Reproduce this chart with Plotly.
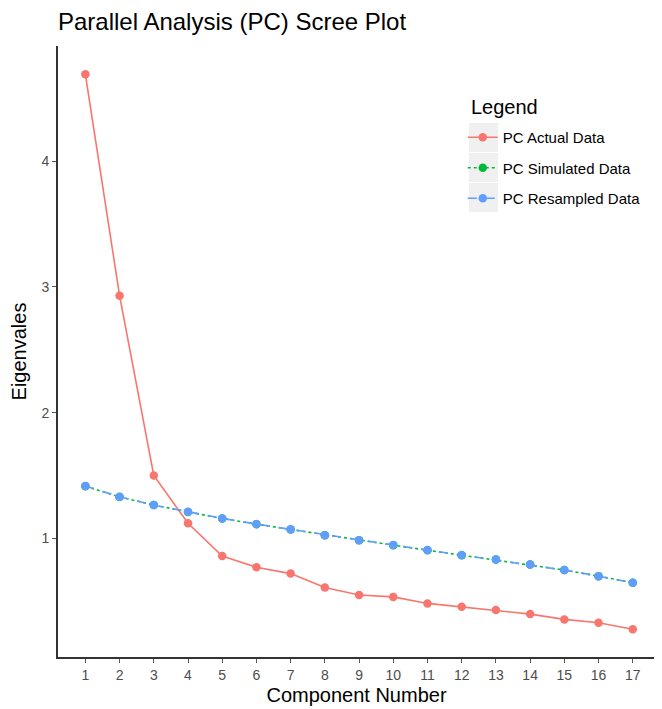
import plotly.graph_objects as go

components = list(range(1, 18))
actual = [4.69, 2.93, 1.50, 1.12, 0.86, 0.77, 0.72, 0.61, 0.55, 0.535, 0.483, 0.456, 0.43, 0.398, 0.356, 0.329, 0.278]
simulated = [1.415, 1.33, 1.265, 1.21, 1.158, 1.113, 1.071, 1.026, 0.985, 0.946, 0.906, 0.866, 0.832, 0.792, 0.748, 0.70, 0.648]
resampled = [1.416, 1.331, 1.265, 1.212, 1.159, 1.114, 1.072, 1.026, 0.986, 0.947, 0.907, 0.867, 0.833, 0.793, 0.748, 0.700, 0.647]
x_ticks = components
y_ticks = [1, 2, 3, 4]
series_names = ["PC Actual Data", "PC Simulated Data", "PC Resampled Data"]

FONT = "Liberation Sans, Arial, sans-serif"

# page has an 8px body margin; plot area in page pixels: x 58..655, y 46..657
PL, PR, PT, PB = 58, 655, 46, 657


def px(x):
    return (x - PL) / (PR - PL)


def py(y):
    return 1 - (y - PT) / (PB - PT)


fig = go.Figure()
series = [
    (series_names[0], actual, "#F8766D", "solid"),
    (series_names[1], simulated, "#00BA38", "dot"),
    (series_names[2], resampled, "#619CFF", "dash"),
]
for name, vals, col, dash in series:
    fig.add_trace(go.Scatter(
        x=components, y=vals, name=name, mode="lines+markers",
        line=dict(color=col, width=1.6, dash=dash),
        marker=dict(color=col, size=8.5),
        legendgroup=name,
    ))

# legend key backgrounds (ggplot style)
shapes = []
for top in [123, 153, 183]:
    shapes.append(dict(type="rect", xref="paper", yref="paper", layer="below",
                       x0=px(469), x1=px(498), y0=py(top + 29), y1=py(top),
                       fillcolor="#f0f0f0", line=dict(width=0)))

fig.update_layout(
    width=654, height=701,
    margin=dict(l=50, r=7, t=38, b=52),
    plot_bgcolor="white", paper_bgcolor="white",
    font=dict(family=FONT, color="black"),
    title=dict(text="Parallel Analysis (PC) Scree Plot", x=0, xref="paper",
               y=0.981, yref="container", xanchor="left", yanchor="middle",
               font=dict(size=24, color="black")),
    showlegend=True,
    legend=dict(
        x=0.678, y=py(121), xref="paper", yref="paper", xanchor="left", yanchor="top",
        font=dict(size=15), bgcolor="rgba(0,0,0,0)",
        traceorder="grouped", tracegroupgap=8, itemwidth=30,
    ),
    annotations=[dict(text="Legend", xref="paper", yref="paper", x=px(469), y=py(107),
                      xanchor="left", yanchor="middle", showarrow=False,
                      font=dict(size=20, color="black"))],
    shapes=shapes,
    xaxis=dict(
        range=[0.2, 17.65], tickmode="array", tickvals=x_ticks,
        ticktext=[str(v) for v in x_ticks],
        showgrid=False, zeroline=False, showline=True, linecolor="#333333", linewidth=1.6,
        ticks="outside", ticklen=4, tickcolor="#555555",
        tickfont=dict(size=14, color="#4d4d4d"),
        title=dict(text="Component Number", font=dict(size=20), standoff=6),
    ),
    yaxis=dict(
        range=[0.057, 4.915], tickmode="array", tickvals=y_ticks,
        ticktext=[str(v) for v in y_ticks],
        showgrid=False, zeroline=False, showline=True, linecolor="#333333", linewidth=1.6,
        ticks="outside", ticklen=4, tickcolor="#555555",
        tickfont=dict(size=14, color="#4d4d4d"),
        title=dict(text="Eigenvales", font=dict(size=20), standoff=14),
    ),
)

fig.write_html("out.html")
